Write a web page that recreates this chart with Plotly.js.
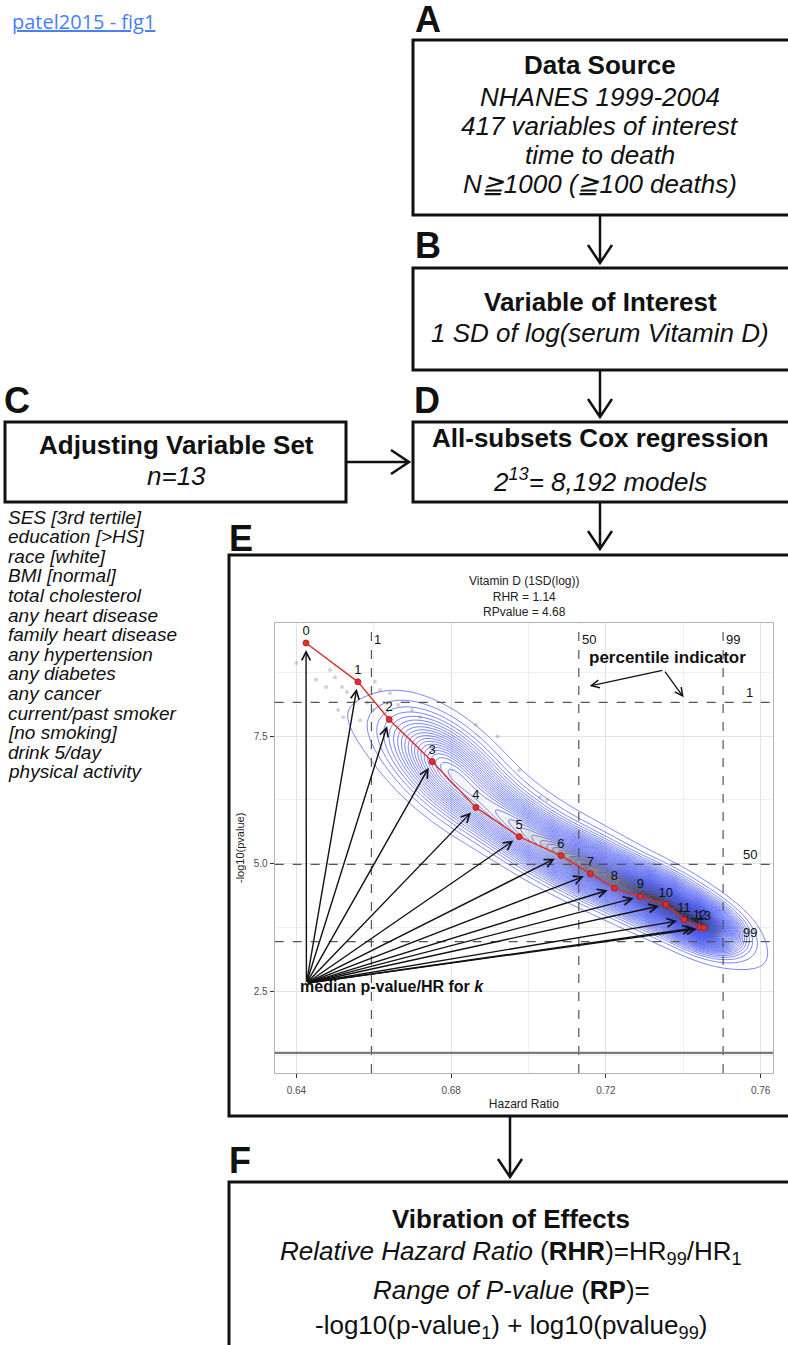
<!DOCTYPE html>
<html>
<head>
<meta charset="utf-8">
<script src="https://cdn.plot.ly/plotly-3.0.1.min.js"></script>
<style>
  html, body { margin: 0; padding: 0; background: #fff; }
  #fig { position: absolute; left: 0; top: 0; width: 788px; height: 1345px; }
  #ref { position: absolute; left: 12px; top: 8px; z-index: 5;
         font-family: "Open Sans", sans-serif; font-size: 20px;
         color: #4a7ff2; text-decoration: underline; }
</style>
</head>
<body>
<a id="ref" href="#">patel2015 - fig1</a>
<div id="fig"></div>
<script>
// ---- Vibration of effects: Vitamin D (1 SD of log) ----

// number of adjusting covariates k, with the median HR and median -log10(p) over models of size k
const modelSize  = [0, 1, 2, 3, 4, 5, 6, 7, 8, 9, 10, 11, 12, 13];
const medianHR   = [0.6425, 0.6559, 0.6640, 0.6751, 0.6864, 0.6976, 0.7084, 0.7160, 0.7222, 0.7289, 0.7355, 0.7402, 0.7443, 0.7453];
const medianLogP = [9.32, 8.56, 7.825, 7.00, 6.104, 5.532, 5.162, 4.805, 4.524, 4.362, 4.204, 3.904, 3.759, 3.747];

// 1st / 50th / 99th percentiles of HR and of -log10(p) across all 8,192 models
const percentileLabels = ['1', '50', '99'];
const hrPercentiles    = [0.6594, 0.7130, 0.7503];
const logPPercentiles  = [8.16, 4.99, 3.478];

// -log10(0.05)
const significanceLogP = 1.301;

// sparse individual models outside the dense region
const sampleHR   = [0.6400, 0.6451, 0.6477, 0.6487, 0.6500, 0.6518, 0.6531, 0.6508, 0.6521, 0.6565, 0.6603, 0.6616, 0.6642, 0.6663, 0.6699, 0.6720, 0.6583, 0.6598, 0.6976, 0.7030, 0.7048, 0.6864, 0.6920];
const sampleLogP = [8.93, 8.60, 8.46, 8.79, 8.65, 8.46, 8.36, 8.01, 7.87, 7.81, 8.56, 8.40, 8.34, 8.11, 8.01, 7.87, 8.15, 8.01, 6.83, 6.31, 6.25, 7.72, 7.49];

// density of the model cloud: clusters (centre, spread along/across the ridge in px, ridge angle, weight)
const kdeHR      = [0.6792, 0.6965, 0.7159, 0.7340, 0.7451, 0.7081];
const kdeLogP    = [6.874, 5.76, 4.92, 4.29, 3.80, 5.45];
const kdeAlong   = [42, 40, 42, 32, 22, 150];
const kdeAcross  = [21, 16, 15, 14, 12, 21];
const kdeAngle   = [42, 35, 27, 25, 25, 31];
const kdeWeight  = [0.5, 0.45, 0.8, 1.0, 1.05, 0.09];

// covariates in the adjusting set
const covariates = ['SES [3rd tertile]', 'education [&gt;HS]', 'race [white]', 'BMI [normal]',
  'total cholesterol', 'any heart disease', 'family heart disease', 'any hypertension',
  'any diabetes', 'any cancer', 'current/past smoker', '[no smoking]', 'drink 5/day', 'physical activity'];

// ---- page geometry (pixels) ----
const W = 788, H = 1345;
const px = X => X / W;
const py = Y => 1 - Y / H;

const xRange = [0.6344, 0.7632];
const yRange = [0.909, 9.717];
const plotLeft = 274.7, plotRight = 773, plotTop = 622.7, plotBottom = 1073;
const pxPerHR = (plotRight - plotLeft) / (xRange[1] - xRange[0]);
const pxPerLogP = (plotBottom - plotTop) / (yRange[1] - yRange[0]);

// density grid
const nx = 240, ny = 280;
const gridX = [], gridY = [], gridZ = [];
for (let i = 0; i < nx; i++) gridX.push(xRange[0] + (xRange[1] - xRange[0]) * i / (nx - 1));
for (let j = 0; j < ny; j++) gridY.push(yRange[0] + (yRange[1] - yRange[0]) * j / (ny - 1));
for (let j = 0; j < ny; j++) {
  const row = [];
  for (let i = 0; i < nx; i++) {
    let z = 0;
    for (let c = 0; c < kdeHR.length; c++) {
      const dx = (gridX[i] - kdeHR[c]) * pxPerHR;
      const dy = -(gridY[j] - kdeLogP[c]) * pxPerLogP;
      const t = kdeAngle[c] * Math.PI / 180;
      const a = dx * Math.cos(t) + dy * Math.sin(t);
      const b = -dx * Math.sin(t) + dy * Math.cos(t);
      z += kdeWeight[c] * Math.exp(-0.5 * (a * a / (kdeAlong[c] ** 2) + b * b / (kdeAcross[c] ** 2)));
    }
    row.push(z);
  }
  gridZ.push(row);
}

const FONT = 'Liberation Sans, Arial, Helvetica, sans-serif';

const traces = [
  { // dark core of the model cloud
    type: 'contour', x: gridX, y: gridY, z: gridZ, showscale: false, hoverinfo: 'skip',
    zmin: 0, zmax: 1.5,
    contours: { coloring: 'fill', start: 0.05, end: 1.6, size: 0.05, showlines: false },
    colorscale: [[0, 'rgba(255,255,255,0)'], [0.3, 'rgba(255,255,255,0)'], [0.6, 'rgba(120,120,130,0.35)'], [1, 'rgba(40,40,40,0.6)']]
  },
  { // blue density contours
    type: 'contour', x: gridX, y: gridY, z: gridZ, showscale: false, hoverinfo: 'skip',
    contours: { coloring: 'none', start: 0.03, end: 2, size: 0.03 },
    line: { color: 'rgba(72,88,240,0.85)', width: 0.9 }
  },
  { // sparse individual models
    type: 'scatter', mode: 'markers', x: sampleHR, y: sampleLogP, hoverinfo: 'skip',
    marker: { size: 4, color: 'rgba(110,110,110,0.3)' }
  },
  { // median path by model size
    type: 'scatter', mode: 'lines+markers+text', x: medianHR, y: medianLogP,
    text: modelSize.map(String), textposition: 'top center',
    textfont: { family: FONT, size: 13, color: '#111' },
    line: { color: '#de2d26', width: 1.4 },
    marker: { size: 6, color: '#e0302a', line: { color: '#b01010', width: 0.8 } }
  }
];

const shapes = [];
const annotations = [];

// percentile indicator lines
hrPercentiles.forEach(v => shapes.push({ type: 'line', xref: 'x', yref: 'paper', x0: v, x1: v,
  y0: py(plotBottom), y1: py(plotTop), line: { color: '#555', width: 1.2, dash: 'dash' } }));
logPPercentiles.forEach(v => shapes.push({ type: 'line', xref: 'paper', yref: 'y', x0: px(plotLeft), x1: px(plotRight),
  y0: v, y1: v, line: { color: '#555', width: 1.2, dash: 'dash' } }));
shapes.push({ type: 'line', xref: 'paper', yref: 'y', x0: px(plotLeft), x1: px(plotRight),
  y0: significanceLogP, y1: significanceLogP, line: { color: '#7a7a7a', width: 2.2 } });

percentileLabels.forEach((lab, i) => {
  annotations.push({ xref: 'x', yref: 'y', x: hrPercentiles[i], y: 9.38, text: lab, showarrow: false,
    xanchor: 'left', yanchor: 'middle', xshift: 1, font: { family: FONT, size: 13, color: '#111' } });
  annotations.push({ xref: 'x', yref: 'y', x: 0.7572, y: logPPercentiles[i], text: lab, showarrow: false,
    xanchor: 'center', yanchor: 'bottom', font: { family: FONT, size: 13, color: '#111' } });
});

// arrows from the label to each median point
const arrowOrigin = [0.6426, 2.664];
modelSize.forEach((k, i) => annotations.push({
  xref: 'x', yref: 'y', axref: 'x', ayref: 'y', x: medianHR[i], y: medianLogP[i],
  ax: arrowOrigin[0], ay: arrowOrigin[1], text: '', showarrow: true,
  arrowhead: 5, arrowsize: 1.2, arrowwidth: 1.4, arrowcolor: '#111', standoff: 7
}));
annotations.push({ xref: 'x', yref: 'y', x: 0.6405, y: 2.61, xanchor: 'left', yanchor: 'middle',
  text: '<b>median p-value/HR for <i>k</i></b>', showarrow: false, font: { family: FONT, size: 16, color: '#111' } });

annotations.push({ xref: 'x', yref: 'y', x: 0.7359, y: 9.03, xanchor: 'center', yanchor: 'middle',
  text: '<b>percentile indicator</b>', showarrow: false, font: { family: FONT, size: 17, color: '#111' } });
[[0.7158, 8.48], [0.7401, 8.257]].forEach(p => annotations.push({
  xref: 'x', yref: 'y', axref: 'x', ayref: 'y', x: p[0], y: p[1], ax: 0.7350, ay: 8.79,
  text: '', showarrow: true, arrowhead: 5, arrowsize: 1.2, arrowwidth: 1.3, arrowcolor: '#111'
}));

// plot title
annotations.push({ xref: 'paper', yref: 'paper', x: px((plotLeft + plotRight) / 2), y: py(596),
  xanchor: 'center', yanchor: 'middle', showarrow: false,
  text: 'Vitamin D (1SD(log))<br>RHR = 1.14<br>RPvalue = 4.68', font: { family: FONT, size: 12, color: '#222' } });

// ---- flowchart ----
function box(x0, y0, x1, y1) {
  shapes.push({ type: 'rect', xref: 'paper', yref: 'paper', x0: px(x0), x1: px(x1), y0: py(y1), y1: py(y0),
    line: { color: '#111', width: 3 }, fillcolor: 'rgba(0,0,0,0)', layer: 'below' });
}
function flowArrow(x1, y1, x2, y2) {
  const L = Math.hypot(x2 - x1, y2 - y1), ux = (x2 - x1) / L, uy = (y2 - y1) / L;
  const hl = 18, hw = 12;
  const bx = x2 - ux * hl, by = y2 - uy * hl;
  const a = [bx - uy * hw, by + ux * hw], b = [bx + uy * hw, by - ux * hw];
  shapes.push({ type: 'path', xref: 'paper', yref: 'paper',
    path: `M${px(x1)},${py(y1)} L${px(x2)},${py(y2)} M${px(a[0])},${py(a[1])} L${px(x2)},${py(y2)} L${px(b[0])},${py(b[1])}`,
    line: { color: '#111', width: 2.5 } });
}
function txt(x, y, text, size, anchor) {
  annotations.push({ xref: 'paper', yref: 'paper', x: px(x), y: py(y), text: text, showarrow: false,
    xanchor: anchor || 'center', yanchor: 'middle', font: { family: FONT, size: size, color: '#111' } });
}

box(413, 40, 790, 215);
box(413, 268, 790, 370);
box(5, 422, 346, 502);
box(413, 422, 790, 502);
box(229, 555, 790, 1116);
box(229, 1182, 795, 1352);

flowArrow(600, 215, 600, 263);
flowArrow(600, 370, 600, 417);
flowArrow(346, 462, 409, 462);
flowArrow(600, 502, 600, 549);
flowArrow(510, 1116, 510, 1177);

txt(413, 19, '<b>A</b>', 36, 'left');
txt(413, 245, '<b>B</b>', 36, 'left');
txt(2, 400, '<b>C</b>', 36, 'left');
txt(412, 400, '<b>D</b>', 36, 'left');
txt(227, 538, '<b>E</b>', 36, 'left');
txt(227, 1160, '<b>F</b>', 36, 'left');

txt(600, 65, '<b>Data Source</b>', 26);
txt(600, 97, '<i>NHANES 1999-2004</i>', 26);
txt(600, 126, '<i>417 variables of interest</i>', 26);
txt(600, 155, '<i>time to death</i>', 26);
txt(600, 184, '<i>N≧1000 (≧100 deaths)</i>', 26);

txt(600, 302, '<b>Variable of Interest</b>', 26);
txt(600, 333, '<i>1 SD of log(serum Vitamin D)</i>', 26);

txt(176, 445, '<b>Adjusting Variable Set</b>', 26);
txt(176, 476, '<i>n=13</i>', 26);

txt(600, 438, '<b>All-subsets Cox regression</b>', 26);
txt(600, 480, '<i>2<sup>13</sup>= 8,192 models</i>', 26);

covariates.forEach((c, i) => txt(6, 517 + 19.6 * i, '<i>' + c + '</i>', 19, 'left'));

txt(511, 1219, '<b>Vibration of Effects</b>', 26);
txt(511, 1252, '<i>Relative Hazard Ratio</i> (<b>RHR</b>)=HR<sub>99</sub>/HR<sub>1</sub>', 26);
txt(511, 1290, '<i>Range of P-value</i> (<b>RP</b>)=', 26);
txt(511, 1326, '-log10(p-value<sub>1</sub>) + log10(pvalue<sub>99</sub>)', 26);

const layout = {
  width: W, height: H, margin: { l: 0, r: 0, t: 0, b: 0 },
  paper_bgcolor: '#fff', plot_bgcolor: '#fff', showlegend: false,
  font: { family: FONT, color: '#111' },
  xaxis: {
    domain: [px(plotLeft), px(plotRight)], range: xRange, tick0: 0.64, dtick: 0.04, tickformat: '.2f',
    showgrid: true, gridcolor: '#e3e3e3', gridwidth: 1,
    minor: { tick0: 0.64, dtick: 0.02, showgrid: true, gridcolor: '#efefef', gridwidth: 1 },
    zeroline: false, showline: true, mirror: true, linecolor: '#b3b3b3', linewidth: 1,
    ticks: 'outside', ticklen: 4, tickcolor: '#333', tickfont: { size: 10, color: '#4d4d4d' },
    ticklabelstandoff: 4,
    title: { text: 'Hazard Ratio', font: { size: 12, color: '#222' }, standoff: 4 }
  },
  yaxis: {
    domain: [py(plotBottom), py(plotTop)], range: yRange, tick0: 0, dtick: 2.5, tickformat: '.1f',
    showgrid: true, gridcolor: '#e3e3e3', gridwidth: 1,
    minor: { tick0: 0, dtick: 1.25, showgrid: true, gridcolor: '#efefef', gridwidth: 1 },
    zeroline: false, showline: true, mirror: true, linecolor: '#b3b3b3', linewidth: 1,
    ticks: 'outside', ticklen: 4, tickcolor: '#333', tickfont: { size: 10, color: '#4d4d4d' },
    title: { text: '-log10(pvalue)', font: { size: 11, color: '#222' }, standoff: 6 }
  },
  shapes: shapes,
  annotations: annotations
};

Plotly.newPlot('fig', traces, layout, { displayModeBar: false, staticPlot: true });
</script>
</body>
</html>
